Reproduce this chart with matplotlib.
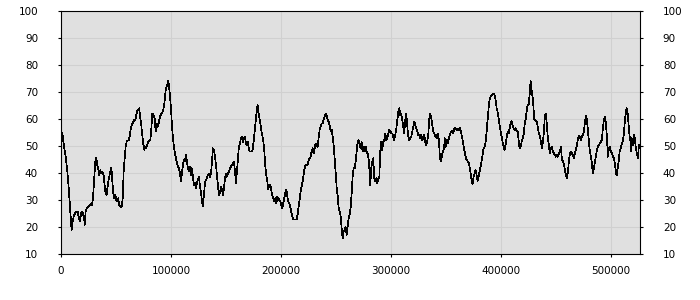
import matplotlib
matplotlib.use("Agg")
import matplotlib.pyplot as plt

# sample position (thousands) and level
pos_k = [
    0, 1.2, 2.7, 4.5, 5.8, 7.3, 8.2, 9.1, 9.7, 10.6, 11.5, 12.7, 13.9, 15.2, 16.4, 17.3, 18.2, 19.4,
    20.3, 21.2, 21.5, 22.4, 23.6, 24.8, 26.1, 27.3, 28.2, 29.1, 30.3, 31.2, 32.1, 33.0, 33.9, 34.8,
    35.8, 36.7, 37.6, 38.8, 39.7, 40.6, 41.5, 42.4, 43.6, 44.8, 45.8, 46.7, 47.6, 48.5, 49.4, 50.3,
    51.2, 52.1, 53.0, 53.9, 55.2, 56.1, 57.0, 57.9, 58.8, 59.7, 60.6, 61.5, 62.4, 63.3, 64.2, 65.5,
    66.7, 67.6, 68.5, 69.4, 70.3, 71.2, 72.1, 73.0, 73.9, 74.8, 75.8, 76.7, 77.6, 78.5, 79.4, 80.3,
    81.2, 82.1, 83.0, 83.9, 84.8,
    85.2, 86.1, 87.0, 87.9, 88.8, 89.7, 90.6, 91.5, 92.4, 93.3, 94.2, 95.2, 96.1, 97.0, 97.6, 98.2,
    99.1, 100.0, 100.9, 101.8, 102.7, 103.6, 104.5, 105.5, 106.4, 107.3, 108.2, 109.1, 110.0, 110.9,
    111.8, 112.7, 113.6, 114.5, 115.5, 116.4, 117.3, 118.2, 119.1, 120.0, 120.9, 121.8, 122.7, 123.6,
    124.5, 125.5, 126.4, 127.3, 128.2, 129.1, 130.0, 130.9, 131.8, 132.7, 133.6, 134.5, 135.5, 136.4,
    137.3, 138.2, 139.1, 140.0, 140.9, 141.8, 142.7, 143.6, 144.5, 145.5, 146.4, 147.3, 148.2, 149.1,
    150.0, 150.9, 151.8, 152.7, 153.6, 154.5, 155.5, 156.4, 157.3, 158.2, 159.1, 160.0, 160.9, 161.8,
    162.7, 163.6, 164.5, 165.5, 166.4, 167.3, 168.2, 169.1, 170.0, 170.9, 171.8,
    172.7, 173.6, 174.5, 175.5, 176.4, 177.3, 178.2, 178.8, 179.4, 180.3, 181.2, 182.1, 183.0, 183.9,
    184.8, 185.8, 186.7, 187.6, 188.5, 189.4, 190.3, 191.2, 192.1, 193.0, 193.9, 194.8, 195.8, 196.7,
    197.6, 198.5, 199.4, 200.3, 201.2, 202.1, 203.0, 203.9, 204.9, 205.8, 206.7, 207.6, 208.5, 209.4,
    210.3, 211.2, 212.7, 214.2, 215.1, 216.1, 217.0, 217.9, 218.8, 219.7, 220.6, 221.5, 222.4, 223.3,
    224.2, 225.2, 226.1, 227.0, 227.9, 228.8, 229.7, 230.6, 231.5, 232.4, 233.3, 234.2, 235.2, 236.1,
    237.0, 237.9, 238.8, 239.7, 240.6, 241.5, 242.4, 243.3, 244.2, 245.2, 246.1, 247.0, 247.9, 248.8,
    249.7, 250.6, 251.5, 252.4, 253.3, 254.2, 255.2, 256.1, 257.0, 257.9,
    258.8, 259.7, 260.6, 261.5, 262.4, 263.3, 264.2, 265.2, 266.1, 267.0, 267.9, 268.8, 269.7, 270.6,
    271.5, 272.4, 273.3, 274.2, 275.2, 276.1, 277.0, 277.9, 278.8, 279.7, 280.6, 281.2, 282.1, 283.0,
    283.9, 284.9, 285.8, 286.7, 287.6, 288.5, 289.4, 290.3, 291.2, 292.1, 293.0, 293.9, 294.9, 295.8,
    296.7, 297.6, 298.5, 299.4, 300.3, 301.2, 302.1, 303.0, 303.9, 304.9, 305.8, 306.7, 307.6, 308.5,
    309.4, 310.3, 311.2, 312.1, 313.0, 313.9, 314.9, 315.8, 316.7, 317.6, 318.5, 319.4, 320.3, 321.2,
    322.1, 323.0, 323.9, 324.9, 325.8, 326.7, 327.6, 328.5, 329.4, 330.3, 331.2, 332.1, 333.0, 333.9,
    334.9, 335.8, 336.7, 337.6, 338.5, 339.4, 340.3, 341.2, 342.1, 343.0, 343.9,
    344.5, 345.5, 346.4, 347.3, 348.2, 349.1, 350.0, 350.9, 351.8, 352.7, 353.6, 354.5, 355.5, 356.4,
    357.3, 358.2, 359.1, 360.0, 360.9, 361.8, 362.7, 363.6, 364.5, 365.5, 366.4, 367.3, 368.2, 369.1,
    370.0, 370.9, 371.8, 372.7, 373.6, 374.2, 375.2, 376.1, 377.0, 377.9, 378.8, 379.7, 380.6, 381.5,
    382.4, 383.3, 384.2, 385.2, 386.1, 387.0, 387.9, 388.8, 389.7, 390.6, 391.5, 392.4, 393.3, 394.2,
    395.2, 396.1, 397.0, 397.9, 398.8, 399.7, 400.6, 401.5, 402.4, 403.3, 404.2, 405.2, 406.1, 407.0,
    407.9, 408.8, 409.7, 410.6, 411.5, 412.4, 413.3, 414.2, 415.2, 416.1, 417.0, 417.9, 418.8, 419.7,
    420.6, 421.5, 422.4, 423.3, 424.2, 425.2, 426.1, 427.0, 427.9, 428.8, 429.7,
    430.0, 430.9, 431.8, 432.7, 433.6, 434.5, 435.5, 436.4, 437.3, 438.2, 439.1, 440.0, 440.9, 441.8,
    442.7, 443.6, 444.5, 445.5, 446.4, 447.3, 448.2, 449.1, 450.0, 450.9, 451.8, 452.7, 453.6, 454.5,
    455.5, 456.4, 457.3, 458.2, 459.1, 460.0, 460.9, 461.8, 462.7, 463.6, 464.5, 465.5, 466.4, 467.3,
    468.2, 469.1, 470.0, 470.9, 471.8, 472.7, 473.6, 474.5, 475.5, 476.4, 477.3, 478.2, 479.1, 480.0,
    480.9, 481.8, 482.7, 483.6, 484.5, 485.5, 486.4, 487.3, 488.2, 489.1, 490.0, 490.9, 491.8, 492.7,
    493.6, 494.5, 495.5, 496.4, 497.3, 498.2, 499.1, 500.0, 500.9, 501.8, 502.7, 503.6, 504.5, 505.2,
    506.1, 507.0, 507.9, 508.8, 509.7, 510.6, 511.5, 512.4, 513.3, 514.2, 515.2, 516.1, 517.0, 517.9,
    518.5, 519.1, 520.0, 520.9, 521.8, 522.7, 523.6, 524.5, 525.5, 526.4,
]

level = [
    55, 55, 50, 45.4, 40.5, 33, 27.5, 22, 19, 22, 23.8, 25, 25.7, 25.7, 23, 22, 25, 25.7,
    24.4, 23, 20.7, 25.7, 27, 27.5, 28, 28.7, 28, 30.6, 38, 44, 45.6, 43, 41.7, 39,
    41, 39.8, 40.5, 39, 35.5, 32.4, 31.8, 35, 38, 40.5, 42, 36.8, 32.4, 30.6, 31.8, 30,
    29.4, 30.6, 28, 27.5, 27.5, 30.6, 40.5, 45.4, 49.7, 51.5, 52, 52, 53.4, 55.9, 57.7, 58.7,
    59.6, 59.6, 61.4, 62.9, 63.5, 63.9, 60.2, 57.7, 54, 50.9, 48.5, 49.7, 49.3, 50.3, 51.5, 52,
    52, 55.9, 62, 61.4, 60.8,
    60.2, 55.3, 58.3, 57, 58.3, 60.2, 61.4, 62, 62.6, 63.9, 66.4, 70.7, 71.9, 73.1, 74, 71.9,
    68.8, 63.9, 57.7, 52.8, 49.7, 47.2, 45.4, 43.5, 42.3, 41.7, 39.8, 37, 39.8, 43,
    44.8, 44.2, 46.6, 44.2, 41.7, 40.5, 42.3, 39.2, 41.7, 38.6, 35.5, 36.2, 34.3, 36.2,
    37.4, 38.6, 34.9, 33, 29.4, 27.8, 31.8, 36.2, 37.4, 38, 39.2, 39.8, 38.6, 39.8,
    44.2, 49.1, 48.5, 46, 43, 39.2, 35.5, 31.8, 32.4, 34.9, 33.7, 31.8, 34.3, 38,
    39.8, 38.6, 39.8, 40.5, 41.7, 42.3, 43, 43.5, 44.2, 40.5, 36.2, 40.5, 45.4, 49.7,
    50.9, 52.8, 53.4, 51.5, 52.8, 53.4, 50.9, 50.3, 51.5, 48.5, 47.9,
    47.9, 47.9, 49.1, 52.8, 56.5, 60.2, 63.9, 65.1, 62.6, 60.8, 58.3, 55.9, 54, 52,
    48.5, 42.3, 39.2, 36.8, 33.9, 35.5, 35.5, 33.7, 31.8, 30.6, 29.4, 30.6, 28.7, 31.2,
    30.6, 30, 29.4, 28.1, 26.9, 28.7, 30.6, 32.4, 33.9, 31.2, 29.4, 28.7, 27.5, 25.7,
    23.8, 22.8, 22.8, 22.8, 24.4, 27.5, 30.6, 33.1, 34.9, 36.8, 39.2, 41.7, 43, 43,
    43, 44.8, 45.4, 46, 47.9, 49.1, 47.2, 49.1, 50.9, 50.3, 49.7, 52.8, 55.9, 57.1,
    58.3, 58.3, 59.6, 60.8, 62, 61.4, 59.6, 59, 57.7, 55.3, 55.9, 53.4, 50.3, 45.4,
    40.5, 34.9, 31.8, 27.5, 25.7, 24.4, 19.5, 15.8, 18.3, 18.9,
    20.1, 17, 20.1, 23.2, 24.4, 26.9, 31.8, 38.6, 41.9, 41.7, 44.2, 47.9, 51.5, 52.2,
    50.3, 49.1, 51.5, 47.9, 49.7, 47.9, 49.7, 47.9, 47.2, 45.4, 40.5, 35.5, 41.7, 44.2,
    45.4, 38, 36.8, 38, 36.2, 38, 38, 47.9, 51.5, 48.5, 51.5, 52.2, 54.6, 52.2,
    52.8, 54.6, 55.9, 55.5, 54.6, 54.6, 53.4, 52.2, 54, 56.5, 59.6, 62.6, 63.9, 61.4,
    62, 59.6, 57.1, 54.6, 59.6, 62, 57.1, 53.4, 52.2, 52.8, 53.4, 55.3, 57.1, 59,
    57.7, 56.5, 55.3, 54, 54, 52.8, 54, 52.2, 52.8, 54, 51.5, 50.3, 51.5, 54,
    60.2, 62, 60.2, 57.7, 55.3, 54.6, 53.4, 54, 52.8, 54.6, 50.3,
    45.4, 44.2, 46.6, 47.9, 49.1, 52.8, 49.7, 52.2, 50.9, 52.8, 54, 55.3, 55.5, 54.6,
    55.9, 56.7, 56.2, 55.9, 56.2, 55.9, 56.7, 55.3, 53.4, 51.5, 49.1, 47.2, 45.4, 44.8,
    44.2, 43.5, 41.7, 39.2, 36.8, 35.8, 38.6, 39.8, 41.1, 39.2, 37, 38.6, 40.5, 42.3,
    44.2, 46.6, 49.1, 49.7, 51.5, 55.3, 59.6, 63.9, 67, 68.2, 68.6, 69.1, 69.4, 68.8,
    67, 63.9, 62.6, 60.2, 57.7, 55.3, 53.4, 51.5, 49.7, 48.5, 50.3, 52.8, 55.3, 54.6,
    56.5, 58.3, 59.2, 57.7, 56.5, 55.9, 56.5, 55.5, 55.3, 52.2, 49.1, 49.7, 51.5, 52.8,
    54, 57.7, 59.6, 62.6, 65.1, 65.1, 68.8, 74, 70.7, 68.2, 63.9,
    60.2, 59.6, 59.2, 59, 56.5, 54.6, 53.4, 51.5, 49.1, 51.5, 55.3, 61.4, 62, 57.7,
    52.8, 50.3, 47.2, 49.1, 49.7, 47.9, 47.2, 46.6, 46, 46.6, 46, 47.2, 47.9, 49.7,
    44.8, 44.2, 43, 41.1, 39.2, 38, 40.5, 44.2, 47.2, 47.9, 47.2, 46.6, 45.4, 47.2,
    48.5, 50.3, 52.8, 53.8, 53.4, 52.2, 53.4, 54, 55.3, 59, 61.2, 59.6, 55.9, 51.5,
    47.9, 46, 43.5, 39.8, 41.7, 44.2, 46.6, 48.5, 49.7, 50.3, 50.9, 51.5, 52.2, 56.5,
    59.6, 60.8, 58.3, 52.8, 46, 49.1, 49.7, 47.9, 47.2, 46, 45.4, 43.5, 40.5, 39,
    41.7, 44.2, 47.9, 49.1, 50.3, 51.5, 53.4, 57.7, 61.4, 63.9, 62, 57.7, 53.4, 51.5,
    47.9, 52.8, 50.3, 54, 52.8, 49.1, 47.2, 45.4, 50.3, 49.7,
]

x_ticks = [0, 100000, 200000, 300000, 400000, 500000]
y_ticks = [10, 20, 30, 40, 50, 60, 70, 80, 90, 100]

fig = plt.figure(figsize=(7, 3), dpi=100)
ax = fig.add_axes([0.0871, 0.1533, 0.8271, 0.811])
ax.set_facecolor("#e0e0e0")

xs = [p * 1000 for p in pos_k]
ax.plot(xs, level, color="black", linewidth=0.5, antialiased=False, zorder=3)

ax.set_xlim(0, 526400)
ax.set_ylim(10, 100)
ax.set_xticks(x_ticks)
ax.set_xticklabels([str(t) for t in x_ticks])
ax.set_yticks(y_ticks)
ax.grid(True, color="#d0d0d0", linewidth=0.75, zorder=0)
ax.set_axisbelow(True)

for s in ax.spines.values():
    s.set_color("black")
    s.set_linewidth(0.8)

ax.tick_params(axis="y", which="both", direction="out", length=2.5, width=0.8,
               left=True, right=True, labelleft=True, labelright=True,
               labelsize=7.5, pad=14)
ax.tick_params(axis="x", direction="out", length=2.5, width=0.8,
               labelsize=7.5, pad=6)

fig.savefig("out.png", dpi=100)
